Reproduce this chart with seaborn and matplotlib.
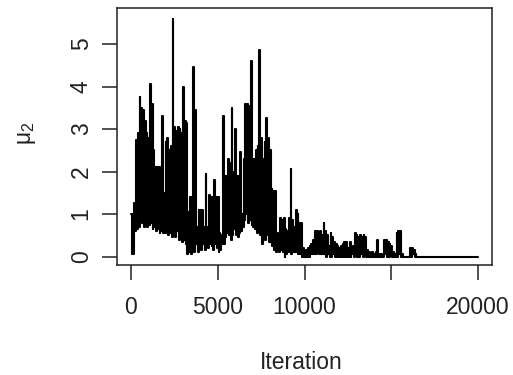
import numpy as np
import pandas as pd
import matplotlib
matplotlib.use("Agg")
import matplotlib.pyplot as plt
import seaborn as sns

# Trace: per 100-iteration block, the upper and lower excursion of mu_2
block_start = list(range(0, 20000, 100))
upper = [1.0, 1.0, 1.25, 2.75, 2.9, 3.75, 3.5, 3.45, 3.2, 2.9,
         2.8, 4.05, 3.6, 2.5, 2.1, 2.1, 2.1, 1.5, 3.3, 1.5,
         2.7, 2.8, 2.5, 2.6, 5.6, 3.05, 2.95, 3.05, 3.0, 2.9,
         4.0, 3.2, 3.15, 1.05, 1.4, 1.4, 4.45, 3.45, 0.7, 1.1,
         1.1, 1.1, 0.7, 1.95, 0.7, 1.45, 1.4, 1.4, 1.8, 1.4,
         1.4, 0.55, 0.5, 3.3, 1.9, 1.9, 2.3, 2.2, 3.5, 2.0,
         3.0, 1.9, 1.9, 2.45, 1.0, 2.3, 3.6, 3.6, 3.55, 4.6,
         2.3, 2.3, 2.5, 2.6, 4.85, 2.8, 2.3, 2.7, 3.25, 2.8,
         2.5, 1.6, 1.55, 1.55, 0.55, 0.5, 0.9, 0.85, 0.9, 0.65,
         0.6, 0.9, 2.05, 0.85, 0.7, 1.1, 1.0, 0.8, 0.8, 0.2,
         0.1, 0.15, 0.2, 0.25, 0.3, 0.4, 0.6, 0.6, 0.55, 0.6,
         0.5, 0.8, 0.6, 0.5, 0.25, 0.55, 0.45, 0.35, 0.3, 0.25,
         0.2, 0.25, 0.3, 0.35, 0.35, 0.2, 0.35, 0.2, 0.25, 0.55,
         0.5, 0.45, 0.5, 0.45, 0.5, 0.45, 0.15, 0.1, 0.05, 0.1,
         0.05, 0.1, 0.4, 0.05, 0.05, 0.0, 0.4, 0.4, 0.35, 0.3,
         0.25, 0.1, 0.05, 0.55, 0.6, 0.6, 0.05, 0.0, 0.0, 0.0,
         0.0, 0.2, 0.2, 0.15, 0.05, 0.0, 0.0, 0.0, 0.0, 0.0,
         0.0, 0.0, 0.0, 0.0, 0.0, 0.0, 0.0, 0.0, 0.0, 0.0,
         0.0, 0.0, 0.0, 0.0, 0.0, 0.0, 0.0, 0.0, 0.0, 0.0,
         0.0, 0.0, 0.0, 0.0, 0.0, 0.0, 0.0, 0.0, 0.0, 0.0]
lower = [0.05, 0.05, 0.6, 0.65, 0.7, 0.85, 0.8, 0.7, 0.75, 0.7,
         0.75, 0.8, 0.65, 0.7, 0.6, 0.65, 0.55, 0.6, 0.55, 0.55,
         0.6, 0.5, 0.55, 0.45, 0.6, 0.45, 0.6, 0.4, 0.5, 0.35,
         0.4, 0.3, 0.05, 0.1, 0.05, 0.2, 0.1, 0.3, 0.1, 0.25,
         0.15, 0.3, 0.15, 0.25, 0.2, 0.3, 0.25, 0.15, 0.3, 0.2,
         0.1, 0.15, 0.3, 0.3, 0.45, 0.55, 0.5, 0.4, 0.5, 0.65,
         0.5, 0.45, 0.55, 0.6, 0.7, 0.85, 1.0, 0.8, 0.85, 0.75,
         0.7, 0.65, 0.55, 0.6, 0.5, 0.3, 0.5, 0.4, 0.5, 0.35,
         0.35, 0.25, 0.15, 0.1, 0.2, 0.1, 0.15, 0.1, 0.0, 0.05,
         0.1, 0.15, 0.05, 0.1, 0.1, 0.1, 0.05, 0.05, 0.0, 0.0,
         0.0, 0.0, 0.0, 0.05, 0.05, 0.05, 0.05, 0.1, 0.05, 0.05,
         0.05, 0.05, 0.0, 0.05, 0.0, 0.0, 0.05, 0.0, 0.0, 0.0,
         0.0, 0.0, 0.0, 0.0, 0.0, 0.0, 0.0, 0.05, 0.0, 0.05,
         0.0, 0.0, 0.05, 0.0, 0.05, 0.0, 0.0, 0.0, 0.0, 0.0,
         0.0, 0.0, 0.0, 0.0, 0.0, 0.0, 0.05, 0.0, 0.0, 0.05,
         0.0, 0.0, 0.0, 0.0, 0.05, 0.0, 0.0, 0.0, 0.0, 0.0,
         0.0, 0.0, 0.05, 0.0, 0.0, 0.0, 0.0, 0.0, 0.0, 0.0,
         0.0, 0.0, 0.0, 0.0, 0.0, 0.0, 0.0, 0.0, 0.0, 0.0,
         0.0, 0.0, 0.0, 0.0, 0.0, 0.0, 0.0, 0.0, 0.0, 0.0,
         0.0, 0.0, 0.0, 0.0, 0.0, 0.0, 0.0, 0.0, 0.0, 0.0]
last_iteration = 20000
last_value = 0.0

x_ticks = [0, 5000, 10000, 15000, 20000]
x_tick_labels = ["0", "5000", "10000", "", "20000"]
y_ticks = [0, 1, 2, 3, 4, 5]
y_tick_labels = ["0", "1", "2", "3", "4", "5"]

# Interleave upper/lower readings into one trace
its, vals = [], []
for s, hi, lo in zip(block_start, upper, lower):
    its += [s, s + 50]
    vals += [hi, lo]
its.append(last_iteration)
vals.append(last_value)
df = pd.DataFrame({"Iteration": its, "mu2": vals})

sns.set_style("white")
plt.rcParams["font.family"] = ["Liberation Sans", "DejaVu Sans"]
plt.rcParams["mathtext.fontset"] = "custom"
plt.rcParams["mathtext.rm"] = "Liberation Sans"
plt.rcParams["mathtext.it"] = "Liberation Sans"

fig = plt.figure(figsize=(5.13, 3.75), dpi=100)
ax = fig.add_axes([117 / 513, 1 - 265 / 375, (492 - 117) / 513, (265 - 8) / 375])

sns.lineplot(data=df, x="Iteration", y="mu2", ax=ax, color="black",
             linewidth=1.5, estimator=None, drawstyle="steps-post")

ax.set_xlim(-800, 20800)
ax.set_ylim(-0.2, 5.85)

ax.set_xticks(x_ticks)
ax.set_xticklabels(x_tick_labels)
ax.set_yticks(y_ticks)
ax.set_yticklabels(y_tick_labels, rotation=90, va="center")

ax.tick_params(axis="both", direction="out", length=10.5, width=1.1,
               color="#222222", labelsize=16.5, labelcolor="#222222")
ax.tick_params(axis="x", pad=12)
ax.tick_params(axis="y", pad=7)
ax.xaxis.set_ticks_position("bottom")
ax.yaxis.set_ticks_position("left")

for sp in ax.spines.values():
    sp.set_visible(True)
    sp.set_color("#222222")
    sp.set_linewidth(1.1)

ax.set_xlabel("Iteration", fontsize=16.5, color="#222222")
ax.set_ylabel(r"$\mu_2$", fontsize=16.5, color="#222222")
ax.xaxis.set_label_coords((301 - 117) / 375, (265 - 351) / 257)
ax.yaxis.set_label_coords((38 - 117) / 375, (265 - 133) / 257)

fig.savefig("out.png", dpi=100)
